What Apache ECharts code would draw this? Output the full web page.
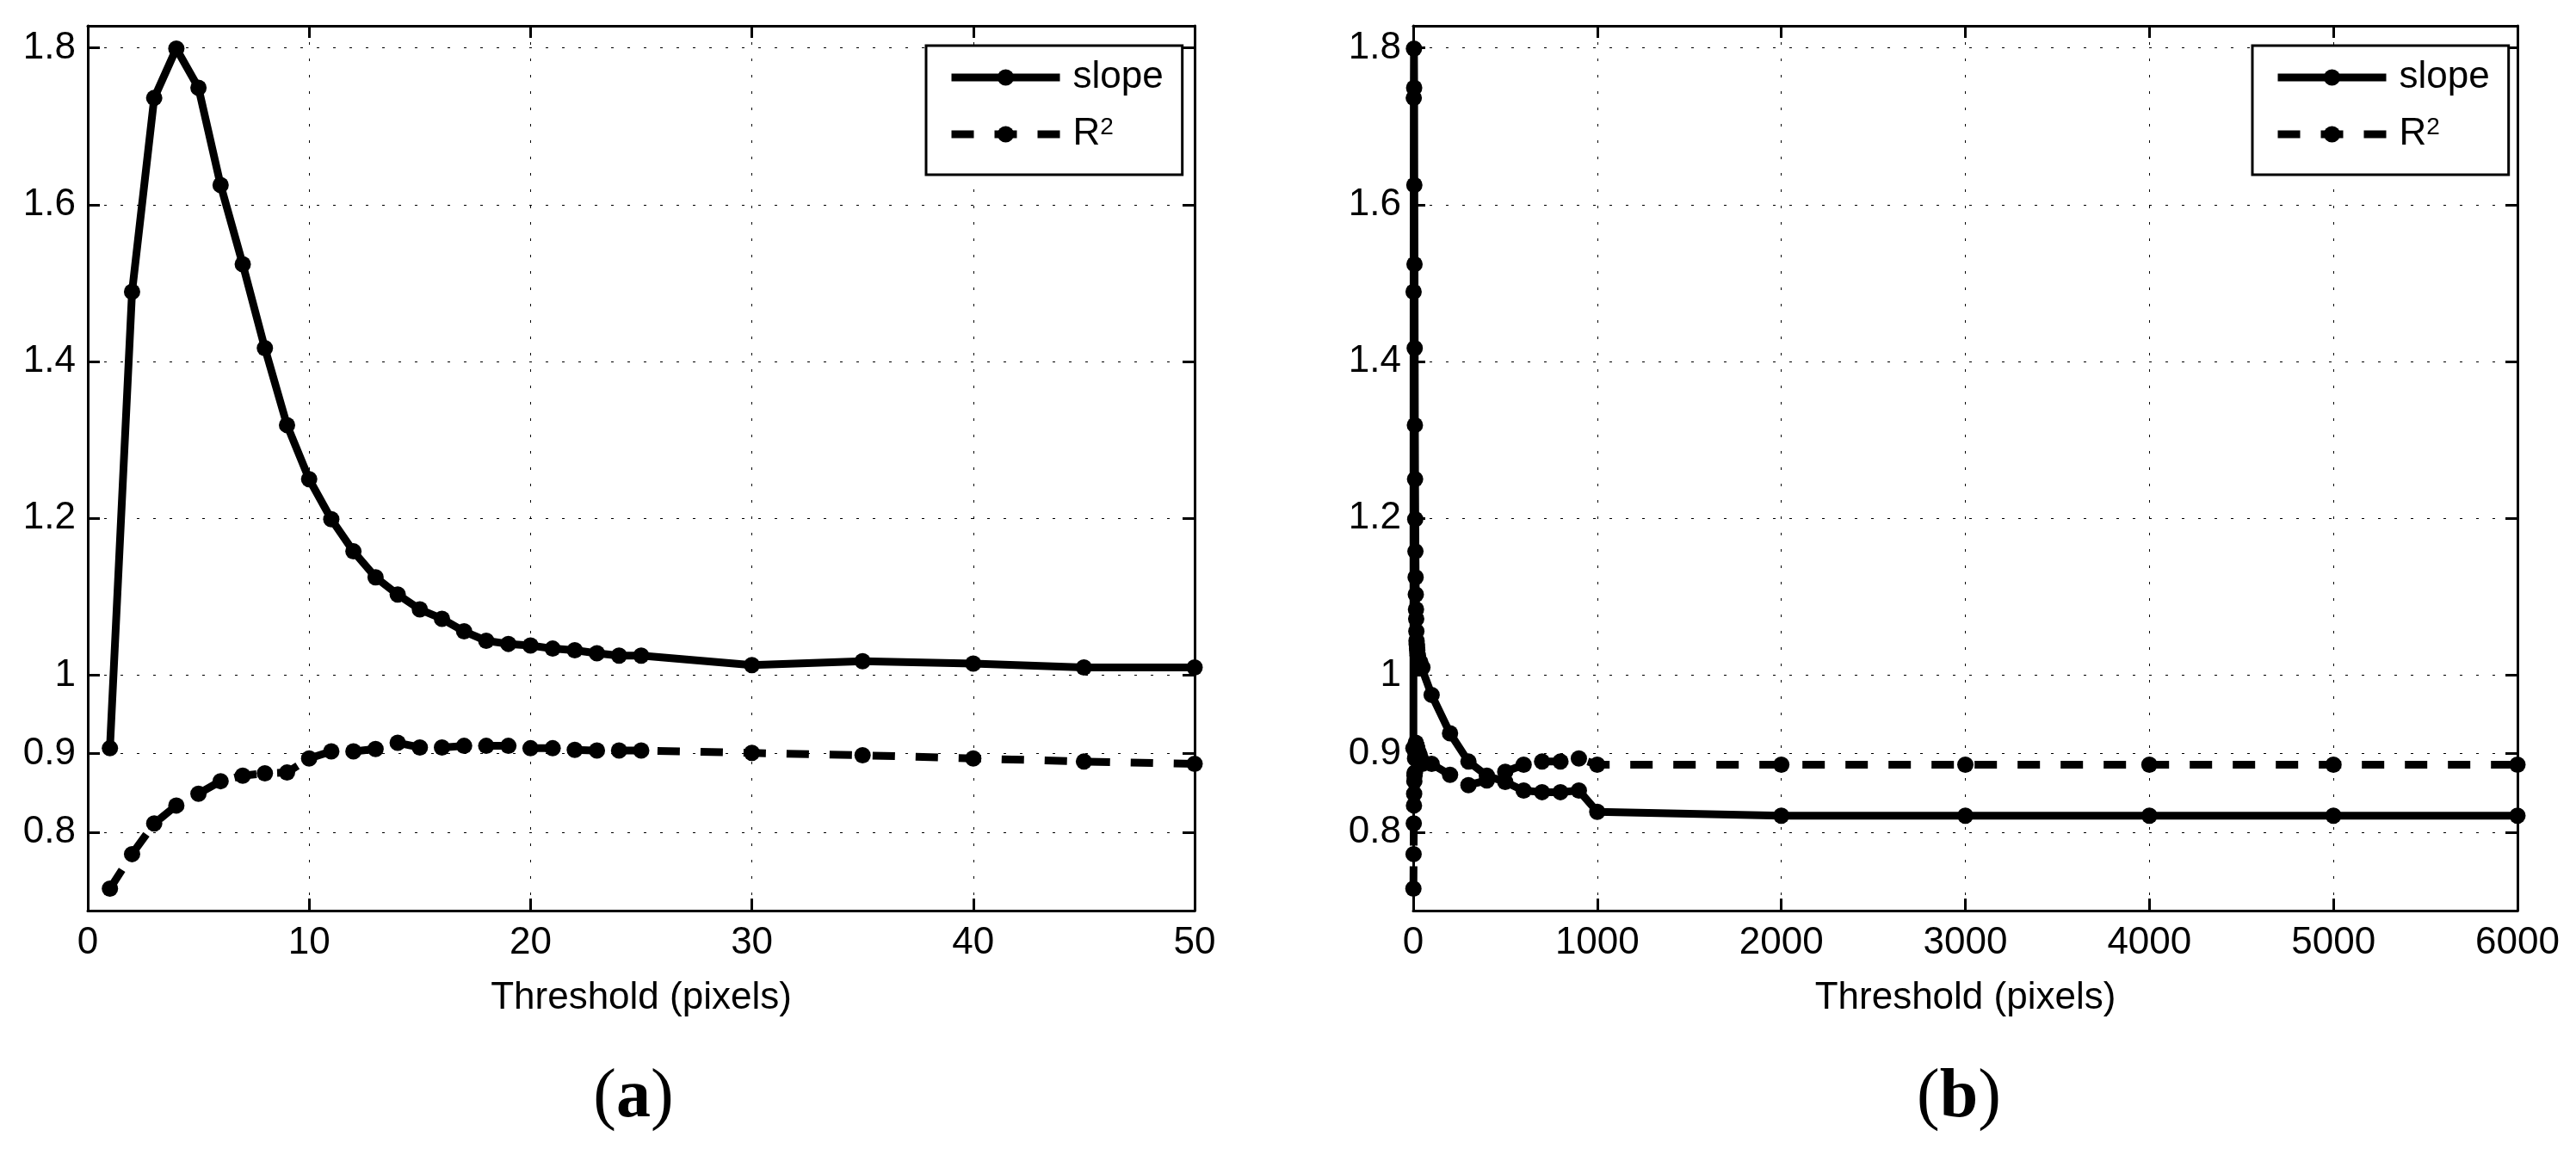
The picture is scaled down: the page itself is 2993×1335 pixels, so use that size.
<!DOCTYPE html>
<html>
<head>
<meta charset="utf-8">
<script src="https://cdn.jsdelivr.net/npm/echarts@6/dist/echarts.min.js"></script>
<style>
html,body{margin:0;padding:0;background:#fff;}
#c{width:2993px;height:1335px;}
</style>
</head>
<body>
<div id="c"></div>
<script>
// ---------- data ----------
const thresholdsA = [1,2,3,4,5,6,7,8,9,10,11,12,13,14,15,16,17,18,19,20,21,22,23,24,25,30,35,40,45,50];
const slopeA = [0.907,1.489,1.736,1.799,1.749,1.625,1.524,1.417,1.319,1.250,1.199,1.158,1.125,1.103,1.084,1.072,1.056,1.044,1.040,1.038,1.034,1.032,1.028,1.025,1.025,1.013,1.018,1.015,1.010,1.010];
const r2A = [0.728,0.772,0.811,0.834,0.849,0.865,0.872,0.875,0.876,0.894,0.903,0.903,0.906,0.914,0.908,0.908,0.910,0.910,0.910,0.907,0.907,0.905,0.904,0.904,0.904,0.901,0.898,0.894,0.890,0.887];

const thresholdsBTail = [100,200,300,400,500,600,700,800,900,1000,2000,3000,4000,5000,6000];
const slopeBTail = [0.975,0.926,0.890,0.872,0.864,0.853,0.851,0.851,0.853,0.826,0.821,0.821,0.821,0.821,0.821];
const r2BTail = [0.887,0.873,0.860,0.866,0.877,0.886,0.890,0.890,0.894,0.886,0.886,0.886,0.886,0.886,0.886];

const thresholdsB = thresholdsA.concat(thresholdsBTail);
const slopeB = slopeA.concat(slopeBTail);
const r2B = r2A.concat(r2BTail);

const yTicks = [0.8, 0.9, 1, 1.2, 1.4, 1.6, 1.8];
const xTicksA = [0, 10, 20, 30, 40, 50];
const xTicksB = [0, 1000, 2000, 3000, 4000, 5000, 6000];
const seriesNames = ['slope', 'R²'];
const captions = ['a', 'b'];

// ---------- styling ----------
const FONT = '"Liberation Sans", Arial, Helvetica, sans-serif';
const SERIF = '"Liberation Serif", "Times New Roman", serif';
const Y_MIN = 0.7, Y_MAX = 1.828;
const grids = [
  {left: 102, top: 30, width: 1286, height: 1028},
  {left: 1642, top: 30, width: 1283, height: 1028}
];
const legendPos = [{left: 1076, top: 53}, {left: 2617, top: 53}];
const captionX = [736, 2276];

const axisLineStyle = {color: '#000', width: 3};
const tickStyle = {color: '#000', width: 3};
const gridLineStyle = {color: '#000', width: 1, type: [3, 16]};
const labelStyle = {color: '#000', fontFamily: FONT, fontSize: 44};

function xAxesFor(gi, ticks) {
  const min = ticks[0], max = ticks[ticks.length - 1], interval = ticks[1] - ticks[0];
  return [
    {
      type: 'value', gridIndex: gi, position: 'bottom', min, max, interval,
      axisLine: {show: true, onZero: false, lineStyle: axisLineStyle},
      axisTick: {show: true, inside: true, length: 14, lineStyle: tickStyle},
      axisLabel: Object.assign({show: true, margin: 16, showMinLabel: true, showMaxLabel: true, formatter: v => String(v)}, labelStyle),
      splitLine: {show: true, lineStyle: gridLineStyle},
      name: 'Threshold (pixels)', nameLocation: 'middle', nameGap: 80,
      nameTextStyle: Object.assign({}, labelStyle)
    },
    {
      type: 'value', gridIndex: gi, position: 'top', min, max, interval,
      axisLine: {show: true, onZero: false, lineStyle: axisLineStyle},
      axisTick: {show: true, inside: true, length: 14, lineStyle: tickStyle},
      axisLabel: {show: false},
      splitLine: {show: false}
    }
  ];
}
function yAxesFor(gi) {
  return [
    {
      type: 'value', gridIndex: gi, position: 'left', min: Y_MIN, max: Y_MAX,
      axisLine: {show: true, onZero: false, lineStyle: axisLineStyle},
      axisTick: {show: true, inside: true, length: 14, lineStyle: tickStyle, customValues: yTicks},
      axisLabel: Object.assign({show: true, margin: 14, customValues: yTicks, formatter: v => String(v)}, labelStyle),
      splitLine: {show: true, lineStyle: gridLineStyle}
    },
    {
      type: 'value', gridIndex: gi, position: 'right', min: Y_MIN, max: Y_MAX,
      axisLine: {show: true, onZero: false, lineStyle: axisLineStyle},
      axisTick: {show: true, inside: true, length: 14, lineStyle: tickStyle, customValues: yTicks},
      axisLabel: {show: false},
      splitLine: {show: false}
    }
  ];
}
function lineSeries(name, xs, ys, axisIdx, dashed) {
  return {
    type: 'line', name, xAxisIndex: axisIdx, yAxisIndex: axisIdx,
    data: xs.map((x, i) => [x, ys[i]]),
    symbol: 'circle', symbolSize: 19, showSymbol: true, showAllSymbol: true,
    clip: false, animation: false,
    lineStyle: {color: '#000', width: 9, type: dashed ? [26, 24] : 'solid', cap: 'butt'},
    itemStyle: {color: '#000'},
    emphasis: {disabled: true}
  };
}
function legendFor(i) {
  return {
    left: legendPos[i].left, top: legendPos[i].top, orient: 'vertical',
    data: seriesNames,
    itemWidth: 126, itemHeight: 24, itemGap: 22,
    padding: [15, 22, 25, 25],
    backgroundColor: '#fff', borderColor: '#000', borderWidth: 3, borderRadius: 0,
    selectedMode: false,
    lineStyle: {width: 9},
    textStyle: {
      color: '#000', fontFamily: FONT, fontSize: 44, lineHeight: 44, padding: [0, 0, 0, 10],
      rich: {sup: {color: '#000', fontFamily: FONT, fontSize: 28, lineHeight: 22, verticalAlign: 'top'}}
    },
    formatter: n => n === 'R²' ? 'R{sup|2}' : n
  };
}

const option = {
  backgroundColor: '#fff',
  animation: false,
  grid: grids,
  xAxis: [].concat(xAxesFor(0, xTicksA), xAxesFor(1, xTicksB)),
  yAxis: [].concat(yAxesFor(0), yAxesFor(1)),
  legend: [legendFor(0), legendFor(1)],
  series: [
    lineSeries(seriesNames[0], thresholdsA, slopeA, 0, false),
    lineSeries(seriesNames[1], thresholdsA, r2A, 0, true),
    lineSeries(seriesNames[0], thresholdsB, slopeB, 2, false),
    lineSeries(seriesNames[1], thresholdsB, r2B, 2, true)
  ],
  graphic: captions.map((c, i) => ({
    type: 'text', x: captionX[i], y: 1276,
    style: {
      text: '{p|(}{b|' + c + '}{p|)}',
      align: 'center', verticalAlign: 'middle',
      rich: {
        p: {fontFamily: SERIF, fontSize: 80, fontWeight: 'normal', fill: '#000', lineHeight: 90},
        b: {fontFamily: SERIF, fontSize: 80, fontWeight: 'bold', fill: '#000', lineHeight: 90}
      }
    }
  }))
};
// xAxis indices: 0 bottom A, 1 top A, 2 bottom B, 3 top B ; yAxis: 0 left A, 1 right A, 2 left B, 3 right B
const chart = echarts.init(document.getElementById('c'), null, {renderer: 'canvas'});
chart.setOption(option);
</script>
</body>
</html>
